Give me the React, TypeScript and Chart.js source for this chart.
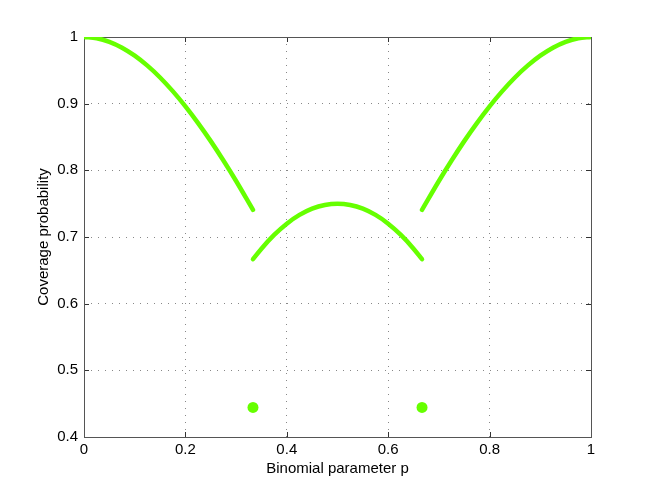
import React, { useEffect, useRef } from "react";
import { Chart, registerables } from "chart.js";

Chart.register(...registerables);

// p values and coverage probabilities
const leftP = [0, 0.025, 0.05, 0.075, 0.1, 0.125, 0.15, 0.175, 0.2, 0.225, 0.25, 0.275, 0.3, 0.3333];
const leftCov = [1, 0.9982, 0.9928, 0.984, 0.972, 0.957, 0.9393, 0.9188, 0.896, 0.8709, 0.8438, 0.8147, 0.784, 0.7407];
const midP = [0.3333, 0.35, 0.375, 0.4, 0.425, 0.45, 0.475, 0.5, 0.525, 0.55, 0.575, 0.6, 0.625, 0.65, 0.6667];
const midCov = [0.6667, 0.6825, 0.7031, 0.72, 0.7331, 0.7425, 0.7481, 0.75, 0.7481, 0.7425, 0.7331, 0.72, 0.7031, 0.6825, 0.6667];
const rightP = [0.6667, 0.7, 0.725, 0.75, 0.775, 0.8, 0.825, 0.85, 0.875, 0.9, 0.925, 0.95, 0.975, 1];
const rightCov = [0.7407, 0.784, 0.8147, 0.8438, 0.8709, 0.896, 0.9188, 0.9393, 0.957, 0.972, 0.984, 0.9928, 0.9982, 1];
const dotP = [0.3333, 0.6667];
const dotCov = [0.4444, 0.4444];

const xTicks = [0, 0.2, 0.4, 0.6, 0.8, 1];
const xTickLabels = ["0", "0.2", "0.4", "0.6", "0.8", "1"];
const yTicks = [0.4, 0.5, 0.6, 0.7, 0.8, 0.9, 1];
const yTickLabels = ["0.4", "0.5", "0.6", "0.7", "0.8", "0.9", "1"];

const xTitle = "Binomial parameter p";
const yTitle = "Coverage probability";

const GREEN = "#66ff00";
const FONT = "'Liberation Sans', Arial, Helvetica, sans-serif";

const toXY = (xs: number[], ys: number[]) => xs.map((x, i) => ({ x, y: ys[i] }));

const framePlugin = {
  id: "frame",
  beforeDatasetsDraw(chart: any) {
    const { ctx, chartArea } = chart;
    const { left, right, top, bottom } = chartArea;
    const xs = chart.scales.x;
    const ys = chart.scales.y;
    ctx.save();
    ctx.strokeStyle = "#333";
    ctx.lineWidth = 1;
    ctx.setLineDash([]);
    ctx.beginPath();
    xTicks.forEach((v) => {
      const px = Math.round(xs.getPixelForValue(v)) + 0.5;
      ctx.moveTo(px, bottom);
      ctx.lineTo(px, bottom - 5);
      ctx.moveTo(px, top);
      ctx.lineTo(px, top + 5);
    });
    yTicks.forEach((v) => {
      const py = Math.round(ys.getPixelForValue(v)) + 0.5;
      ctx.moveTo(left, py);
      ctx.lineTo(left + 5, py);
      ctx.moveTo(right, py);
      ctx.lineTo(right - 5, py);
    });
    ctx.stroke();
    ctx.strokeStyle = "#555";
    ctx.strokeRect(Math.round(left) + 0.5, Math.round(top) + 0.5, Math.round(right - left), Math.round(bottom - top));
    ctx.restore();
  },
  afterDraw(chart: any) {
    const { ctx, chartArea } = chart;
    const { left, right, top, bottom } = chartArea;
    ctx.save();
    ctx.fillStyle = "#000";
    ctx.font = `15px ${FONT}`;
    ctx.textAlign = "center";
    ctx.textBaseline = "middle";
    ctx.fillText(xTitle, (left + right) / 2, 469);
    ctx.translate(44, (top + bottom) / 2);
    ctx.rotate(-Math.PI / 2);
    ctx.fillText(yTitle, 0, 0);
    ctx.restore();
  },
};

export default function App() {
  const ref = useRef<HTMLCanvasElement | null>(null);
  useEffect(() => {
    if (!ref.current) return;
    const lineDs = (xs: number[], ys: number[]) => ({
      type: "line" as const,
      data: toXY(xs, ys),
      borderColor: GREEN,
      backgroundColor: GREEN,
      borderWidth: 4.5,
      pointRadius: 0,
      tension: 0.4,
      cubicInterpolationMode: "monotone" as const,
      borderCapStyle: "round" as const,
      fill: false,
    });
    const chart = new Chart(ref.current, {
      type: "scatter",
      data: {
        datasets: [
          lineDs(leftP, leftCov),
          lineDs(midP, midCov),
          lineDs(rightP, rightCov),
          {
            type: "scatter",
            data: toXY(dotP, dotCov),
            backgroundColor: GREEN,
            borderColor: GREEN,
            borderWidth: 0,
            pointRadius: 5.5,
            showLine: false,
          } as any,
        ],
      },
      options: {
        animation: false,
        responsive: true,
        maintainAspectRatio: false,
        layout: { padding: { top: 37, right: 61, left: 0, bottom: 0 } },
        plugins: { legend: { display: false }, tooltip: { enabled: false } },
        scales: {
          x: {
            type: "linear",
            min: 0,
            max: 1,
            afterFit: (s: any) => {
              s.height = 54;
            },
            afterBuildTicks: (s: any) => {
              s.ticks = xTicks.map((v) => ({ value: v }));
            },
            ticks: {
              padding: 4,
              color: "#000",
              font: { family: FONT, size: 15 },
              maxRotation: 0,
              callback: (v: any) => xTickLabels[xTicks.indexOf(Number(v))] ?? "",
            },
            grid: { color: "#888", lineWidth: 1, drawTicks: false },
            border: { display: false, dash: [1, 6] },
          },
          y: {
            type: "linear",
            min: 0.4,
            max: 1,
            afterFit: (s: any) => {
              s.width = 84;
            },
            afterBuildTicks: (s: any) => {
              s.ticks = yTicks.map((v) => ({ value: v }));
            },
            ticks: {
              padding: 6,
              color: "#000",
              font: { family: FONT, size: 15 },
              callback: (v: any) => {
                const i = yTicks.findIndex((t) => Math.abs(t - Number(v)) < 1e-9);
                return i >= 0 ? yTickLabels[i] : "";
              },
            },
            grid: { color: "#888", lineWidth: 1, drawTicks: false },
            border: { display: false, dash: [1, 6] },
          },
        },
      } as any,
      plugins: [framePlugin],
    });
    return () => chart.destroy();
  }, []);
  return (
    <div style={{ position: "absolute", left: 0, top: 0, width: 652, height: 491, background: "#fff" }}>
      <canvas ref={ref} />
    </div>
  );
}
